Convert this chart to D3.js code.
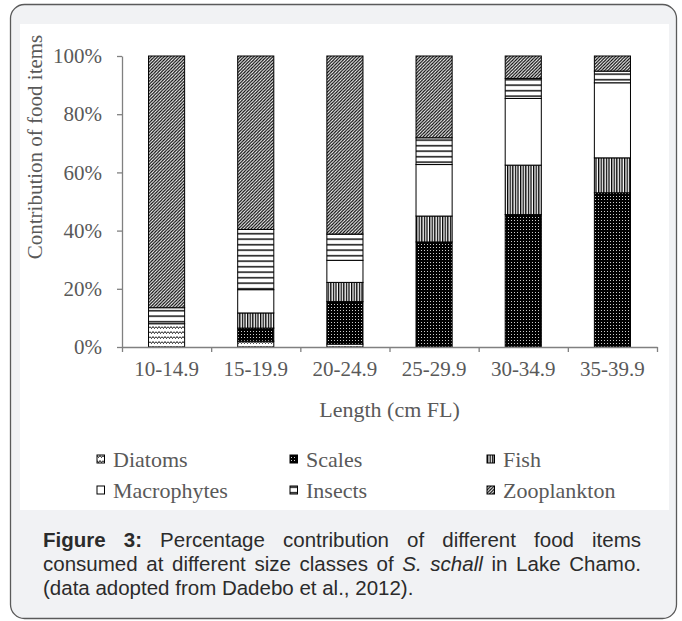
<!DOCTYPE html>
<html>
<head>
<meta charset="utf-8">
<script src="https://cdn.jsdelivr.net/npm/d3@7"></script>
<style>
  html, body { margin: 0; padding: 0; background: #fff; }
  #chart { position: relative; width: 682px; height: 621px; }
  .cap { position: absolute; left: 43px; width: 598px; font-family: 'Liberation Sans', Arial, sans-serif;
         font-size: 20.5px; color: #2b2b2b; line-height: 24px; white-space: nowrap; }
  .cap.just { text-align: justify; text-align-last: justify; white-space: normal; }
</style>
</head>
<body>
<div id="chart"></div>
<script>
// food items per size class (% contribution, bottom to top)
const categories = ['10-14.9', '15-19.9', '20-24.9', '25-29.9', '30-34.9', '35-39.9'];
const diatoms     = [8, 2, 1, 0, 0, 0];
const scales      = [0, 4.5, 14.6, 36.1, 45.5, 53];
const fish        = [0, 5.2, 6.6, 8.9, 17, 12];
const macrophytes = [0, 8, 7.6, 17.7, 22.9, 25.8];
const insects     = [5.5, 20.7, 9, 9.2, 6.9, 4];
const zooplankton = [86.5, 59.6, 61.2, 28.1, 7.7, 5.2];
const seriesNames = ['Diatoms', 'Scales', 'Fish', 'Macrophytes', 'Insects', 'Zooplankton'];
const yTicks = [0, 20, 40, 60, 80, 100];

const width = 682, height = 621;
const margin = { top: 56, left: 122, right: 25, bottom: 274 };
const serif = "'Liberation Serif', 'Times New Roman', serif";
const grey = '#595959';

const container = d3.select('#chart');
const svg = container.append('svg')
  .attr('width', width)
  .attr('height', height);

// outer rounded frame + white chart panel
svg.append('rect')
  .attr('x', 10.5).attr('y', 4.5)
  .attr('width', 666).attr('height', 614)
  .attr('rx', 14)
  .attr('fill', '#f1f2f4')
  .attr('stroke', '#5a5a5a')
  .attr('stroke-width', 1.3);
svg.append('rect')
  .attr('x', 20).attr('y', 24)
  .attr('width', 649).attr('height', 486)
  .attr('fill', '#fff');

// hatch patterns
const defs = svg.append('defs');
function pattern(id, w, h, bg, draw) {
  const p = defs.append('pattern')
    .attr('id', id)
    .attr('patternUnits', 'userSpaceOnUse')
    .attr('width', w).attr('height', h);
  p.append('rect').attr('width', w).attr('height', h).attr('fill', bg);
  draw(p);
}
pattern('p-diatoms', 6, 5, '#fff', p => p.append('path')
  .attr('d', 'M0,1.5 L1.5,3.5 L3,1.5 L4.5,3.5 L6,1.5')
  .attr('fill', 'none').attr('stroke', '#000').attr('stroke-width', 0.9));
pattern('p-scales', 3, 3, '#000', p => p.append('rect')
  .attr('x', 1).attr('y', 1).attr('width', 0.9).attr('height', 0.9).attr('fill', '#fff'));
pattern('p-fish', 2.6, 4, '#fff', p => p.append('rect')
  .attr('x', 0).attr('y', 0).attr('width', 1.3).attr('height', 4).attr('fill', '#000'));
pattern('p-macrophytes', 4, 4, '#fff', p => {});
pattern('p-insects', 4, 5.5, '#fff', p => p.append('rect')
  .attr('x', 0).attr('y', 2).attr('width', 4).attr('height', 1.4).attr('fill', '#000'));
pattern('p-zooplankton', 3.2, 3.2, '#fff', p => p.append('path')
  .attr('d', 'M-0.8,0.8 L0.8,-0.8 M0,3.2 L3.2,0 M2.4,4 L4,2.4')
  .attr('stroke', '#000').attr('stroke-width', 1.2));

const patternFor = {
  Diatoms: 'url(#p-diatoms)', Scales: 'url(#p-scales)', Fish: 'url(#p-fish)',
  Macrophytes: 'url(#p-macrophytes)', Insects: 'url(#p-insects)', Zooplankton: 'url(#p-zooplankton)'
};

// build table for the stack
const table = categories.map((c, i) => ({
  category: c,
  Diatoms: diatoms[i], Scales: scales[i], Fish: fish[i],
  Macrophytes: macrophytes[i], Insects: insects[i], Zooplankton: zooplankton[i]
}));
const stacked = d3.stack().keys(seriesNames)(table);

const x = d3.scaleBand()
  .domain(categories)
  .range([margin.left, width - margin.right])
  .padding(0);
const xEdge = d3.scaleLinear()
  .domain([0, categories.length])
  .range([margin.left, width - margin.right]);
const y = d3.scaleLinear()
  .domain([0, 100])
  .range([height - margin.bottom, margin.top]);

const barW = x.bandwidth() * 0.405;

// bars
svg.append('g')
  .selectAll('g')
  .data(stacked)
  .enter().append('g')
  .attr('fill', d => patternFor[d.key])
  .selectAll('rect')
  .data(d => d.filter(s => s[1] - s[0] > 0))
  .enter().append('rect')
  .attr('x', d => x(d.data.category) + (x.bandwidth() - barW) / 2)
  .attr('y', d => y(d[1]))
  .attr('width', barW)
  .attr('height', d => y(d[0]) - y(d[1]))
  .attr('stroke', '#000')
  .attr('stroke-width', 1);

// y axis
const yAxis = svg.append('g')
  .attr('transform', `translate(${margin.left},0)`)
  .call(d3.axisLeft(y).tickValues(yTicks).tickFormat(d => d + '%').tickSize(5).tickSizeOuter(0).tickPadding(15));

// x axis: boundary ticks + centred labels
const xAxis = svg.append('g')
  .attr('transform', `translate(0,${height - margin.bottom})`)
  .call(d3.axisBottom(xEdge).tickValues(d3.range(categories.length + 1)).tickFormat('').tickSize(5).tickSizeOuter(0));
const xLabels = svg.append('g')
  .attr('transform', `translate(0,${height - margin.bottom})`)
  .call(d3.axisBottom(x).tickSize(0).tickPadding(14));
xLabels.select('.domain').remove();

[yAxis, xAxis, xLabels].forEach(a => {
  a.selectAll('.domain, .tick line').attr('stroke', '#808080').attr('stroke-width', 1.3);
  a.selectAll('text').attr('font-family', serif).attr('font-size', 21).attr('fill', grey);
});

// axis titles
svg.append('text')
  .attr('x', (margin.left + width - margin.right) / 2)
  .attr('y', 417)
  .attr('text-anchor', 'middle')
  .attr('font-family', serif).attr('font-size', 22).attr('fill', grey)
  .text('Length (cm FL)');
svg.append('text')
  .attr('transform', 'translate(42,147) rotate(-90)')
  .attr('text-anchor', 'middle')
  .attr('font-family', serif).attr('font-size', 21).attr('fill', grey)
  .text('Contribution of food items');

// legend, 3 columns x 2 rows
const legendX = [97, 290, 487];
const legendY = [459, 490];
const legend = svg.append('g')
  .selectAll('g')
  .data(seriesNames)
  .enter().append('g')
  .attr('transform', (d, i) => `translate(${legendX[i % 3]},${legendY[Math.floor(i / 3)]})`);
legend.append('rect')
  .attr('x', 0).attr('y', -4)
  .attr('width', 7.5).attr('height', 8)
  .attr('fill', d => patternFor[d])
  .attr('stroke', '#000').attr('stroke-width', 1);
legend.append('text')
  .attr('x', 16).attr('y', 0)
  .attr('dy', '0.35em')
  .attr('font-family', serif).attr('font-size', 22).attr('fill', grey)
  .text(d => d);

// caption
const cap = container.append('div');
cap.append('div').attr('class', 'cap just').style('top', '528px')
  .html('<b>Figure 3:</b> Percentage contribution of different food items');
cap.append('div').attr('class', 'cap just').style('top', '552px')
  .html('consumed at different size classes of <i>S. schall</i> in Lake Chamo.');
cap.append('div').attr('class', 'cap').style('top', '576px')
  .text('(data adopted from Dadebo et al., 2012).');
</script>
</body>
</html>
